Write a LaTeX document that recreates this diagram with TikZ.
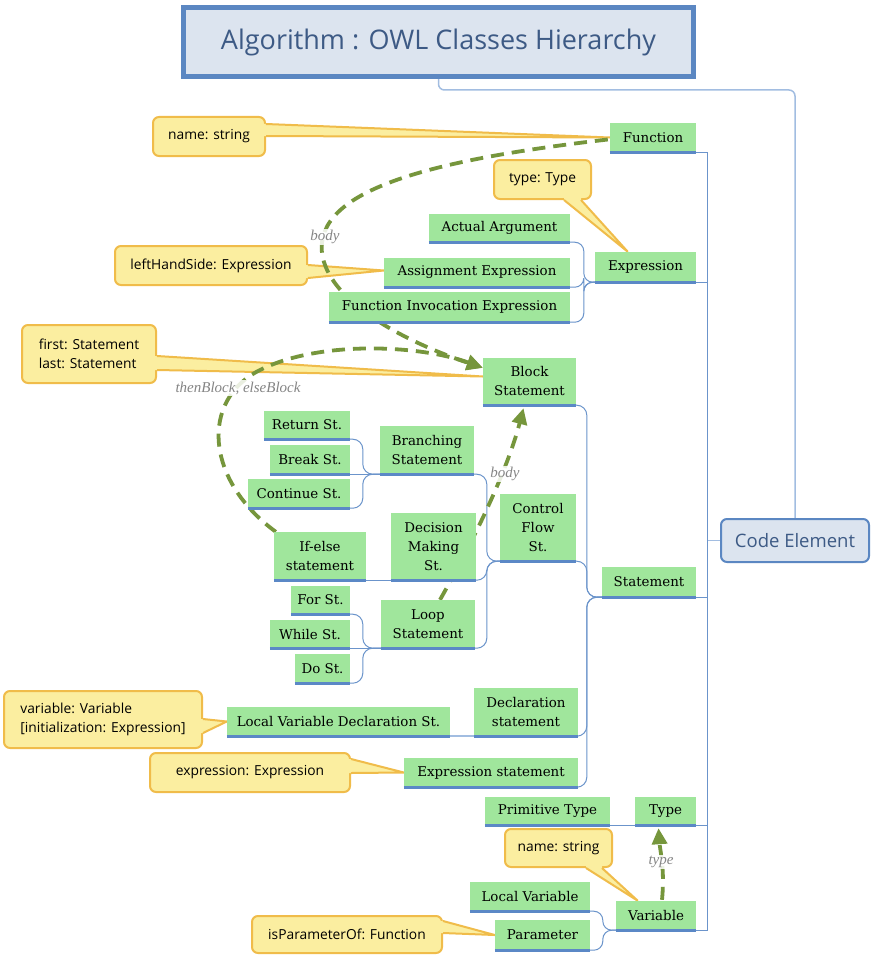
\documentclass[tikz,border=0pt]{standalone}
\usepackage{fontspec}
\setmainfont{DejaVu Serif}
\newfontfamily\sansfont{Open Sans}
\newfontfamily\relfont{Liberation Serif}
\usetikzlibrary{calc,arrows.meta}

\definecolor{gfill}{HTML}{A0E69C}
\definecolor{uline}{HTML}{5B88C6}
\definecolor{conn}{HTML}{6B94CB}
\definecolor{connlight}{HTML}{A2BDE1}
\definecolor{cfill}{HTML}{FBEEA0}
\definecolor{cline}{HTML}{F0BC4A}
\definecolor{hdfill}{HTML}{DCE4EF}
\definecolor{hdline}{HTML}{5B87C2}
\definecolor{hdtext}{HTML}{3D5A85}
\definecolor{relcol}{HTML}{76963C}
\definecolor{reltext}{HTML}{858585}

\pgfdeclarelayer{back}
\pgfdeclarelayer{mid}
\pgfsetlayers{back,mid,main}

% pointer of a note: base points #1,#2 on the note border, tip #3, inward shift (#4,#5)
\newcommand\notewedge[5]{%
  \fill[cfill] ($(#1)+(#4,#5)$) -- (#1) -- (#3) -- (#2) -- ($(#2)+(#4,#5)$) -- cycle;
  \draw[draw=cline, line width=2pt] (#1) -- (#3) -- (#2);
}

\begin{document}
\begin{tikzpicture}[x=1pt,y=-1pt,
  box/.style n args={2}{minimum width=#1pt, minimum height=#2pt},
  cls/.style={fill=gfill, inner sep=0pt, align=center, font=\fontsize{13.4}{19}\selectfont},
  bar/.style={draw=uline, line width=3pt},
  link/.style={draw=conn, line width=1pt},
  linklight/.style={draw=connlight, line width=1.5pt},
  note/.style={fill=cfill, draw=cline, line width=2pt, rounded corners=6pt, inner sep=0pt,
    align=left, font=\sansfont\fontsize{13.8}{19}\selectfont},
  header/.style={fill=hdfill, draw=hdline, line width=5pt, text=hdtext, inner sep=0pt,
    font=\sansfont\fontsize{27}{30}\selectfont},
  root/.style={fill=hdfill, draw=hdline, line width=2pt, rounded corners=6pt, text=hdtext,
    inner sep=0pt, font=\sansfont\fontsize{18.5}{22}\selectfont},
  rel/.style={draw=relcol, line width=3.8pt, dash pattern=on 13pt off 8pt,
    -{Triangle[length=16pt,width=15pt]}},
  rellabel/.style={font=\relfont\itshape\fontsize{15}{15}\selectfont, text=reltext,
    fill=white, fill opacity=0.85, text opacity=1, inner sep=1.5pt}
]
\useasboundingbox (0,0) rectangle (870,955);

% ---------- header and root ----------
\node[header, minimum width=510pt, minimum height=69pt] (title) at (438.5,42) {Algorithm : OWL Classes Hierarchy};
\node[root, minimum width=148pt, minimum height=43pt] (code) at (795,540.5) {Code Element};

% ---------- classes ----------
\node[cls, box={86}{29}]  (fn)      at (653,137.5) {Function};
\node[cls, box={101}{30}] (expr)    at (645.5,267) {Expression};
\node[cls, box={141}{28}] (actarg)  at (499.5,228) {Actual Argument};
\node[cls, box={186}{29}] (assign)  at (477,272.5) {Assignment Expression};
\node[cls, box={241}{30}] (funinv)  at (449.5,307) {Function Invocation Expression};
\node[cls, box={93}{47}]  (block)   at (529.5,381.5) {Block\\Statement};
\node[cls, box={86}{28}]  (ret)     at (307,425) {Return St.};
\node[cls, box={80}{29}]  (brk)     at (310,459.5) {Break St.};
\node[cls, box={102}{29}] (cont)    at (299,493.5) {Continue St.};
\node[cls, box={94}{48}]  (branch)  at (427,450) {Branching\\Statement};
\node[cls, box={76}{67}]  (cflow)   at (538,527.5) {Control\\Flow\\St.};
\node[cls, box={92}{48}]  (ifelse)  at (320,556) {If-else\\statement};
\node[cls, box={85}{67}]  (decis)   at (433.5,546.5) {Decision\\Making\\St.};
\node[cls, box={59}{28}]  (forst)   at (320.5,600) {For St.};
\node[cls, box={80}{28}]  (whilest) at (310,634) {While St.};
\node[cls, box={55}{29}]  (dost)    at (322.5,668.5) {Do St.};
\node[cls, box={94}{48}]  (loop)    at (428,624) {Loop\\Statement};
\node[cls, box={94}{30}]  (stmt)    at (649,582) {Statement};
\node[cls, box={223}{29}] (lvds)    at (338.5,721.5) {Local Variable Declaration St.};
\node[cls, box={104}{48}] (decl)    at (526,712) {Declaration\\statement};
\node[cls, box={174}{29}] (exprst)  at (491,772.5) {Expression statement};
\node[cls, box={125}{28}] (prim)    at (547.5,811) {Primitive Type};
\node[cls, box={61}{28}]  (type)    at (665.5,811) {Type};
\node[cls, box={120}{29}] (locvar)  at (530,896.5) {Local Variable};
\node[cls, box={95}{30}]  (param)   at (542.5,935) {Parameter};
\node[cls, box={80}{29}]  (var)     at (656,915.5) {Variable};

\foreach \n in {fn,expr,actarg,assign,funinv,block,ret,brk,cont,branch,cflow,ifelse,decis,
  forst,whilest,dost,loop,stmt,lvds,decl,exprst,prim,type,locvar,param,var}
  \draw[bar] (\n.south west) -- (\n.south east);

% ---------- hierarchy connectors ----------
\begin{pgfonlayer}{back}
\fill[white] (0,0) rectangle (870,955);

\coordinate (tTop) at ($(fn.south east)+(11,0)$);
\coordinate (tBot) at (tTop |- var.south east);
\coordinate (tBend) at ($(title.south)+(0,11)$);
\draw[linklight, rounded corners=6pt] (title.south) -- (tBend) -| (code.north);
\draw[linklight] (code.west) -- (code.west -| tTop);
\draw[link] (fn.south east) -- (tTop) -- (tBot) -- (var.south east);
\foreach \n in {expr,stmt,type} \draw[link] (\n.south east) -- (\n.south east -| tTop);

\coordinate (bExpr) at ($(expr.south west)+(-11,0)$);
\coordinate (bStmt) at ($(stmt.south west)+(-15,0)$);
\coordinate (bCf)   at ($(cflow.south west)+(-13,0)$);
\coordinate (bBr)   at ($(branch.south west)+(-17,0)$);
\coordinate (bLoop) at ($(loop.south west)+(-18,0)$);
\coordinate (bVar)  at ($(var.south west)+(-13,0)$);

\foreach \c in {actarg,assign,funinv}
  \draw[link, rounded corners=9pt] (\c.south east) -| (bExpr) -- (expr.south west);
\foreach \c in {block,cflow,decl,exprst}
  \draw[link, rounded corners=10pt] (\c.south east) -| (bStmt) -- (stmt.south west);
\foreach \c in {branch,decis,loop}
  \draw[link, rounded corners=10pt] (\c.south east) -| (bCf) -- (cflow.south west);
\foreach \c in {ret,cont}
  \draw[link, rounded corners=10pt] (\c.south east) -| (bBr) -- (branch.south west);
\draw[link] (brk.south east) -- (branch.south west);
\foreach \c in {forst,dost}
  \draw[link, rounded corners=10pt] (\c.south east) -| (bLoop) -- (loop.south west);
\draw[link] (whilest.south east) -- (loop.south west);
\draw[link] (ifelse.south east) -- (decis.south west);
\draw[linklight] (lvds.south east) -- (decl.south west);
\draw[link] (prim.south east) -- (type.south west);
\foreach \c in {locvar,param}
  \draw[link, rounded corners=9pt] (\c.south east) -| (bVar) -- (var.south west);

% ---------- attribute notes ----------
\node[note, box={112}{39}] (n1) at (209,136.5) {name: string};
\coordinate (n1a) at ($(n1.north east)+(0,8)$);
\coordinate (n1b) at ($(n1.north east)+(0,20)$);
\notewedge{n1a}{n1b}{fn.west}{-3}{0}

\node[note, box={97}{39}] (n2) at (542.5,179.5) {type: Type};
\coordinate (n2a) at ($(n2.south east)+(-28,0)$);
\coordinate (n2b) at ($(n2.south east)+(-11,0)$);
\coordinate (n2t) at ($(expr.north west)+(33,0)$);
\notewedge{n2a}{n2b}{n2t}{0}{-3}

\node[note, box={192}{39}] (n3) at (211,265.5) {leftHandSide: Expression};
\coordinate (n3a) at ($(n3.north east)+(0,20)$);
\coordinate (n3b) at ($(n3.north east)+(0,33)$);
\coordinate (n3t) at ($(assign.west)+(0,-2)$);
\notewedge{n3a}{n3b}{n3t}{-3}{0}

\node[note, box={134}{58}] (n4) at (89,354) {first: Statement\\last: Statement};
\coordinate (n4a) at ($(n4.north east)+(0,32)$);
\coordinate (n4b) at ($(n4.north east)+(0,46)$);
\coordinate (n4t) at ($(block.west)+(0,-5)$);
\notewedge{n4a}{n4b}{n4t}{-3}{0}

\node[note, box={198}{57}] (n5) at (103,719.5) {variable: Variable\\{[initialization: Expression]}};
\coordinate (n5a) at ($(n5.north east)+(0,29)$);
\coordinate (n5b) at ($(n5.north east)+(0,43)$);
\notewedge{n5a}{n5b}{lvds.west}{-3}{0}

\node[note, box={200}{39}] (n6) at (250,772.5) {expression: Expression};
\coordinate (n6a) at ($(n6.north east)+(0,7)$);
\coordinate (n6b) at ($(n6.north east)+(0,21)$);
\notewedge{n6a}{n6b}{exprst.west}{-3}{0}

\node[note, box={107}{38}] (n7) at (558.5,848) {name: string};
\coordinate (n7a) at ($(n7.south west)+(82,0)$);
\coordinate (n7b) at ($(n7.south west)+(98,0)$);
\coordinate (n7t) at ($(var.north west)+(22,0)$);
\notewedge{n7a}{n7b}{n7t}{0}{-3}

\node[note, box={190}{37}] (n8) at (347,934.5) {isParameterOf: Function};
\coordinate (n8a) at ($(n8.north east)+(0,6)$);
\coordinate (n8b) at ($(n8.north east)+(0,18)$);
\notewedge{n8a}{n8b}{param.west}{-3}{0}
\end{pgfonlayer}

% ---------- object properties ----------
\begin{pgfonlayer}{mid}
\draw[rel] ($(fn.west)+(-2,2)$) .. controls (430,160) and (315,190) .. (322,253)
  .. controls (328,300) and (400,340) .. ($(block.north west)+(0,10)$);
\draw[rel] ($(ifelse.north west)+(2,0)$) .. controls (205,480) and (200,400) .. (260,370)
  .. controls (320,340) and (420,345) .. ($(block.north west)+(0,10)$);
\draw[rel] ($(loop.north)+(12,0)$) .. controls (485,520) and (510,460) .. ($(block.south)+(-6,3)$);
\draw[rel] ($(var.north)+(6,-1)$) .. controls (665,870) and (660,850) .. ($(type.south)+(-7,3)$);
\end{pgfonlayer}

\node[rellabel] (lb1) at (325,237) {body};
\node[rellabel] (lb2) at (238,388) {thenBlock, elseBlock};
\node[rellabel] (lb3) at (505,474) {body};
\node[rellabel] (lb4) at (661,862) {type};
\end{tikzpicture}
\end{document}
